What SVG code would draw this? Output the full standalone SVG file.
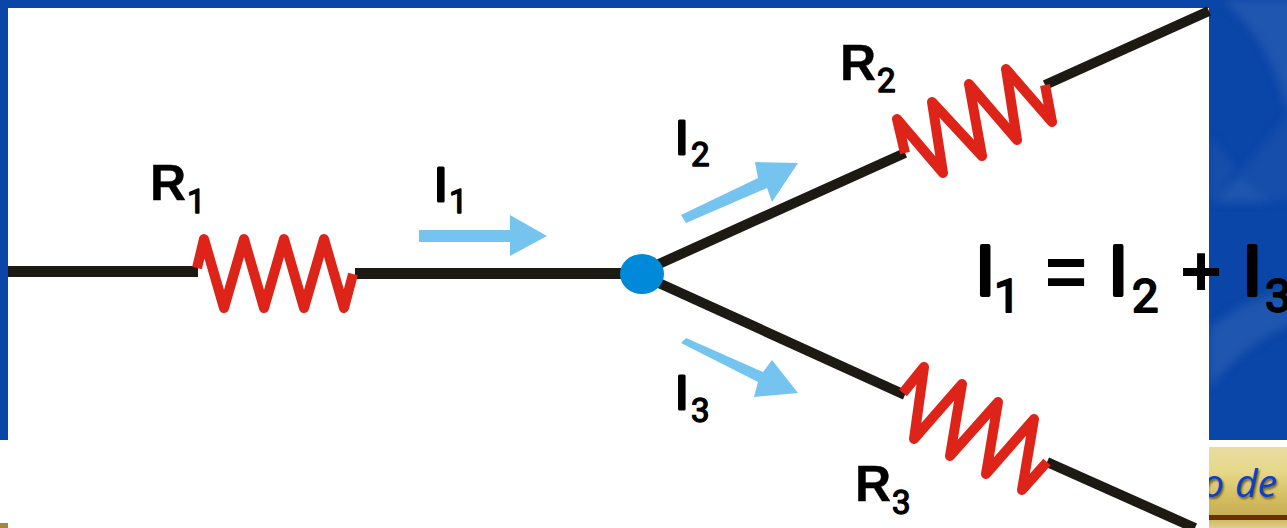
<svg xmlns="http://www.w3.org/2000/svg" width="1287" height="528" viewBox="0 0 1287 528">
<style>
text{font-family:"Liberation Sans",Arial,sans-serif;fill:#000;stroke:#000;stroke-linejoin:round}
.m{font-size:50px;font-weight:700;stroke-width:.4px}
.i{font-size:49px;stroke-width:3px}
.s{font-family:Roboto,"Liberation Sans",sans-serif;font-size:33px;stroke-width:1.4px}
.M{font-size:70px;stroke-width:4px}
.O{font-size:72px;font-weight:700;stroke-width:0}
.S{font-family:Roboto,"Liberation Sans",sans-serif;font-size:47px;stroke-width:2px}
.w{stroke:#1d1a14;stroke-width:10;fill:none}
.r{stroke:#de2319;stroke-width:10;fill:none;stroke-linejoin:round}
.a{fill:#75c4f0}
</style>
<defs>
<linearGradient id="g" x1="0" y1="0" x2="0" y2="1">
<stop offset="0" stop-color="#e8dca4"/><stop offset=".3" stop-color="#e6d888"/><stop offset=".65" stop-color="#d3bb5f"/><stop offset=".85" stop-color="#c8ad55"/><stop offset="1" stop-color="#e0cf88"/>
</linearGradient>
<filter id="b" x="-20%" y="-20%" width="140%" height="140%"><feGaussianBlur stdDeviation="1.2"/></filter>
<filter id="f" x="-20%" y="-20%" width="140%" height="140%"><feGaussianBlur stdDeviation="5"/></filter>
<clipPath id="c"><rect x="1209" y="447" width="78" height="81"/></clipPath>
<clipPath id="bl"><rect x="1209" y="0" width="78" height="440"/></clipPath>
</defs>
<rect width="1287" height="528" fill="#fff"/>
<g id="background">
<path d="M0 0H1287V440H1209V8H8V440H0Z" fill="#0a45a8"/>
<g clip-path="url(#bl)">
<g filter="url(#f)" fill="#2f62b4" opacity=".6">
<path d="M1222 0H1300V100L1287 110Q1270 40 1222 0Z"/>
<path d="M1238 175L1300 100V200H1270Z" opacity=".5"/>
<path d="M1209 135L1236 168L1215 200H1209Z" opacity=".5"/>
<path d="M1238 176L1272 202H1214Z"/>
<path d="M1209 330Q1240 300 1300 285V320Q1240 345 1209 390Z"/>
</g>
</g>
<path d="M0 523H8V528H0Z" fill="#a8843c"/>
</g>
<g id="panel" clip-path="url(#c)">
<rect x="1209" y="447" width="78" height="81" fill="url(#g)"/>
<rect x="1209" y="515" width="78" height="5" fill="#6b2f00"/>
<text x="1278.500" y="498.500" text-anchor="end" word-spacing="1" style="font-size:39px;font-weight:400;font-style:italic;fill:#6a5a2a;stroke:none;font-family:'Open Sans',sans-serif" filter="url(#b)">o de</text>
<text x="1277" y="497" text-anchor="end" word-spacing="1" style="font-size:39px;font-weight:400;font-style:italic;fill:#0b3fd0;stroke:none;font-family:'Open Sans',sans-serif">o de</text>
</g>
<g id="connectors">
<path class="w" style="stroke-width:11" d="M8 271.500H198"/>
<path class="w" style="stroke-width:11" d="M355 273.500H640"/>
<path class="w" d="M650 268L905 153"/>
<path class="w" d="M1045 85L1209 11"/>
<path class="w" d="M650 279L905 395"/>
<path class="w" d="M1047 462L1195 528"/>
</g>
<g id="R1"><path class="r" d="M197 268L204 239L224 308L244 239L264 308L284 239L304 308L324 239L344 308L353 274"/>
<text class="m" x="150" y="200">R</text><text class="s" x="187" y="213">1</text></g>
<g id="R2"><path class="r" d="M905 153L897 119L943 173L932 102L982 156L969 84L1017 140L1006 69L1052 122L1045 85"/>
<text class="m" x="840" y="80">R</text><text class="s" x="877" y="92">2</text></g>
<g id="R3"><path class="r" d="M903 393L924 367L914 439L962 384L950 456L998 402L986 474L1034 419L1022 490L1047 462"/>
<text class="m" x="855" y="501">R</text><text class="s" x="892" y="514">3</text></g>
<g id="junction"><ellipse cx="642" cy="274" rx="22" ry="20" fill="#0089d8"/></g>
<g id="I1"><path class="a" d="M419 230H510V215L547 236L510 256V242H419Z"/>
<text class="i" x="434" y="201">I</text><text class="s" x="449" y="213">1</text></g>
<g id="I2"><path class="a" d="M681 215L758 178L755 162L798 163L772 202L767 188L686 223Z"/>
<text class="i" x="675" y="154">I</text><text class="s" x="691" y="166">2</text></g>
<g id="I3"><path class="a" d="M686 338L763 372L772 360L798 393L754 397L758 382L681 343Z"/>
<text class="i" x="675" y="409">I</text><text class="s" x="691" y="422">3</text></g>
<g id="equation">
<text class="M" x="975.500" y="295">I</text><text class="S" x="994" y="312">1</text>
<text class="O" x="1045" y="296">=</text>
<text class="M" x="1108.500" y="295">I</text><text class="S" x="1132" y="312">2</text>
<text class="O" x="1180" y="296">+</text>
<text class="M" x="1242.500" y="295">I</text><text class="S" x="1265" y="312">3</text>
</g>
</svg>
